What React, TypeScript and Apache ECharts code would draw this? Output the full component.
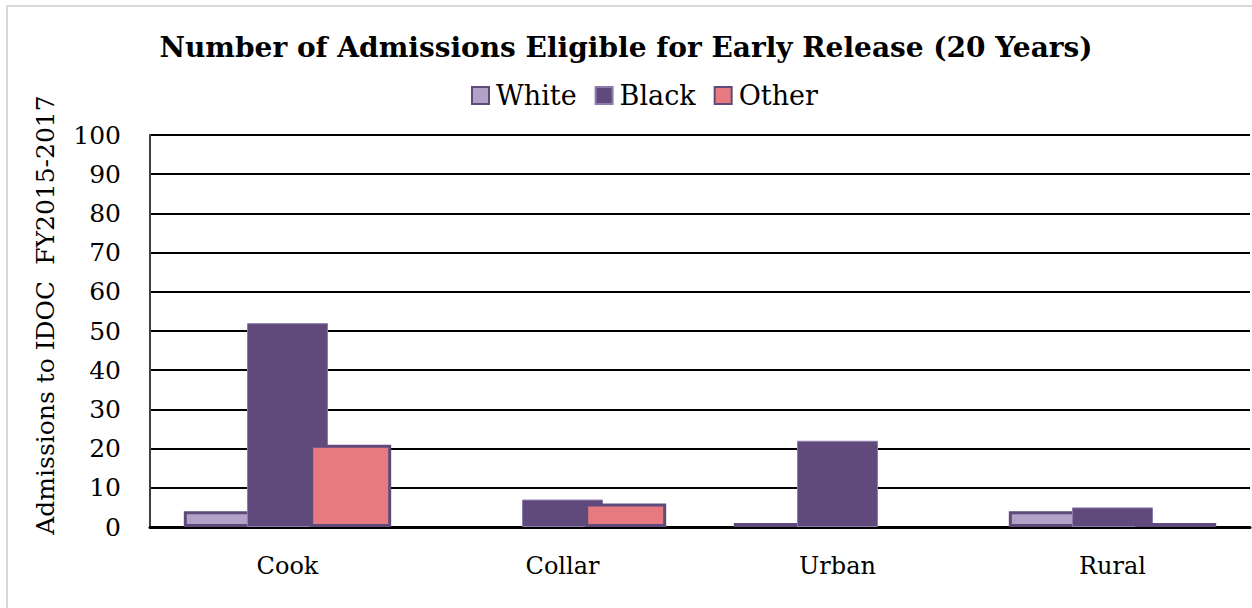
import React, { useEffect, useRef } from "react";
import * as echarts from "echarts";

// Admissions eligible for early release, by region and race
const categories = ["Cook", "Collar", "Urban", "Rural"];
const whiteValues = [4, 0, 1, 4];
const blackValues = [52, 7, 22, 5];
const otherValues = [21, 6, 0, 1];
const yTicks = { min: 0, max: 100, interval: 10 };

const FONT = "'DejaVu Serif', 'Liberation Serif', serif";

// zero-height bars are left out so no border stub is drawn for them
const toBarData = (vals: number[]) => vals.map((v) => (v === 0 ? "-" : v));

export default function App() {
  const ref = useRef<HTMLDivElement>(null);

  useEffect(() => {
    if (!ref.current) return;
    const chart = echarts.init(ref.current, undefined, { renderer: "svg" });
    chart.setOption({
      animation: false,
      backgroundColor: "#ffffff",
      title: {
        text: "Number of Admissions Eligible for Early Release (20 Years)",
        left: "center",
        top: 28,
        textStyle: { fontFamily: FONT, fontSize: 28, fontWeight: "bold", color: "#000" },
      },
      legend: {
        top: 77,
        left: 466,
        icon: "rect",
        itemWidth: 17,
        itemHeight: 17,
        itemGap: 18,
        textStyle: { fontFamily: FONT, fontSize: 27, color: "#000", padding: [0, 0, 0, 2] },
        data: ["White", "Black", "Other"],
      },
      grid: { left: 150, right: 2, top: 135, bottom: 81, containLabel: false },
      xAxis: {
        type: "category",
        data: categories,
        axisLine: { lineStyle: { color: "#000", width: 3 } },
        axisTick: { show: false },
        axisLabel: { fontFamily: FONT, fontSize: 24, color: "#000", margin: 27 },
      },
      yAxis: {
        type: "value",
        min: yTicks.min,
        max: yTicks.max,
        interval: yTicks.interval,
        axisLine: { show: true, lineStyle: { color: "#404040", width: 2 } },
        axisTick: { show: false },
        axisLabel: { fontFamily: FONT, fontSize: 25, color: "#000", margin: 29 },
        splitLine: { lineStyle: { color: "#000", width: 2 } },
      },
      graphic: [
        {
          type: "rect",
          shape: { x: 7, y: 6, width: 1300, height: 700 },
          style: { fill: "none", stroke: "#d9d9d9", lineWidth: 2 },
          silent: true,
        },
        {
          type: "text",
          x: 45,
          y: 315,
          rotation: Math.PI / 2,
          style: {
            text: "Admissions to IDOC  FY2015-2017",
            fontFamily: FONT,
            fontSize: 25,
            fill: "#000",
            align: "center",
            verticalAlign: "middle",
          },
        },
      ],
      series: [
        {
          name: "White",
          type: "bar",
          data: toBarData(whiteValues),
          barWidth: 81,
          barGap: "-22%",
          itemStyle: { color: "#b3a2c7", borderColor: "#604a7b", borderWidth: 3 },
        },
        {
          name: "Black",
          type: "bar",
          data: toBarData(blackValues),
          barWidth: 81,
          barGap: "-22%",
          itemStyle: { color: "#604a7b", borderColor: "#8e7cad", borderWidth: 1 },
        },
        {
          name: "Other",
          type: "bar",
          data: toBarData(otherValues),
          barWidth: 81,
          barGap: "-22%",
          itemStyle: { color: "#e67a80", borderColor: "#604a7b", borderWidth: 3 },
        },
      ],
    });
    return () => chart.dispose();
  }, []);

  return (
    <div
      ref={ref}
      style={{ position: "fixed", left: 0, top: 0, width: 1252, height: 608 }}
    />
  );
}
